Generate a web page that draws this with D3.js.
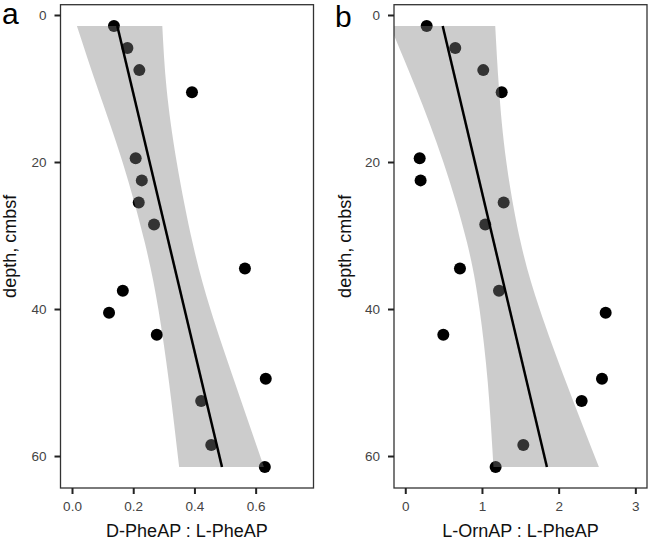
<!DOCTYPE html>
<html>
<head>
<meta charset="utf-8">
<script src="https://cdn.jsdelivr.net/npm/d3@7"></script>
<style>
  body { margin: 0; background: #fff; }
  svg { display: block; font-family: "Liberation Sans", Arial, sans-serif; }
</style>
</head>
<body>
<div id="chart"></div>
<script>
// depth of each sample (cmbsf)
const depths = [1.5, 4.5, 7.5, 10.5, 19.5, 22.5, 25.5, 28.5, 34.5, 37.5, 40.5, 43.5, 49.5, 52.5, 58.5, 61.5];
const dPheRatio = [0.137, 0.181, 0.220, 0.392, 0.208, 0.228, 0.218, 0.268, 0.565, 0.166, 0.121, 0.277, 0.633, 0.422, 0.455, 0.630];
const lOrnRatio = [0.279, 0.652, 1.017, 1.257, 0.188, 0.200, 1.283, 1.043, 0.713, 1.222, 2.613, 0.496, 2.565, 2.300, 1.539, 1.178];

// fitted line ends
const fitDepths = [1.5, 61.5];
const dPheFit = [0.148, 0.490];
const lOrnFit = [0.488, 1.847];

// confidence band, read at a few depths
const bandDepths = [1.5, 10, 20, 31, 40, 50, 61.5];
const dPheLow = [0.016, 0.084, 0.165, 0.238, 0.282, 0.317, 0.350];
const dPheHigh = [0.295, 0.309, 0.342, 0.394, 0.452, 0.532, 0.627];
const lOrnLow = [-0.197, 0.140, 0.496, 0.806, 0.968, 1.076, 1.150];
const lOrnHigh = [1.173, 1.222, 1.318, 1.506, 1.752, 2.098, 2.525];

const depthTicks = [0, 20, 40, 60];
const dPheTicks = [0, 0.2, 0.4, 0.6];
const lOrnTicks = [0, 1, 2, 3];

const svg = d3.select("#chart")
  .append("svg")
  .attr("width", 650)
  .attr("height", 542);

class DepthPanel {
  constructor(_config) {
    this.config = _config;
    this.initVis();
  }

  initVis() {
    let vis = this;
    const c = vis.config;

    vis.xScale = d3.scaleLinear().domain(c.xDomain).range([c.left, c.right]);
    vis.yScale = d3.scaleLinear().domain([-1.4, 64.35]).range([c.top, c.bottom]);

    vis.g = svg.append("g");

    const clipId = "clip-" + c.letter;
    vis.g.append("clipPath")
      .attr("id", clipId)
      .append("rect")
      .attr("x", c.left)
      .attr("y", c.top)
      .attr("width", c.right - c.left)
      .attr("height", c.bottom - c.top);

    const plot = vis.g.append("g").attr("clip-path", `url(#${clipId})`);

    // points first, the band sits on top and greys them
    plot.selectAll(".dot")
      .data(depths.map((d, i) => ({ depth: d, value: c.values[i] })))
      .join("circle")
      .attr("class", "dot")
      .attr("cx", (d) => vis.xScale(d.value))
      .attr("cy", (d) => vis.yScale(d.depth))
      .attr("r", 6)
      .attr("fill", "#000");

    const band = bandDepths.map((d, i) => ({ depth: d, lo: c.low[i], hi: c.high[i] }));
    const area = d3.area()
      .x0((d) => vis.xScale(d.lo))
      .x1((d) => vis.xScale(d.hi))
      .y((d) => vis.yScale(d.depth))
      .curve(d3.curveNatural);

    plot.append("path")
      .datum(band)
      .attr("d", area)
      .attr("fill", "#808080")
      .attr("fill-opacity", 0.4);

    const line = d3.line()
      .x((d) => vis.xScale(d.value))
      .y((d) => vis.yScale(d.depth));

    plot.append("path")
      .datum(fitDepths.map((d, i) => ({ depth: d, value: c.fit[i] })))
      .attr("d", line)
      .attr("fill", "none")
      .attr("stroke", "#000")
      .attr("stroke-width", 2.5);

    // panel border
    vis.g.append("rect")
      .attr("x", c.left)
      .attr("y", c.top)
      .attr("width", c.right - c.left)
      .attr("height", c.bottom - c.top)
      .attr("fill", "none")
      .attr("stroke", "#333")
      .attr("stroke-width", 1.3);

    const yAxis = d3.axisLeft(vis.yScale)
      .tickValues(depthTicks)
      .tickSize(6)
      .tickPadding(8);

    const xAxis = d3.axisBottom(vis.xScale)
      .tickValues(c.ticks)
      .tickFormat(d3.format(c.format))
      .tickSize(6)
      .tickPadding(7.5);

    const yG = vis.g.append("g")
      .attr("transform", `translate(${c.left},0)`)
      .call(yAxis);

    const xG = vis.g.append("g")
      .attr("transform", `translate(0,${c.bottom})`)
      .call(xAxis);

    [yG, xG].forEach((ax) => {
      ax.select(".domain").remove();
      ax.selectAll(".tick line").attr("stroke", "#222").attr("stroke-width", 2);
      ax.selectAll(".tick text")
        .attr("fill", "#444")
        .style("font-size", "13.5px");
    });

    vis.g.append("text")
      .attr("x", (c.left + c.right) / 2)
      .attr("y", 537)
      .attr("text-anchor", "middle")
      .style("font-size", "18px")
      .attr("fill", "#111")
      .text(c.xTitle);

    vis.g.append("text")
      .attr("transform", `translate(${c.yTitleX},${(c.top + c.bottom) / 2}) rotate(-90)`)
      .attr("text-anchor", "middle")
      .style("font-size", "18px")
      .attr("fill", "#111")
      .text("depth, cmbsf");

    vis.g.append("text")
      .attr("x", c.letterX)
      .attr("y", c.letterY)
      .style("font-size", "30px")
      .attr("fill", "#000")
      .text(c.letter);
  }
}

new DepthPanel({
  letter: "a", letterX: 2, letterY: 23.5,
  left: 60.5, right: 313.5, top: 4.7, bottom: 488,
  xDomain: [-0.0376, 0.789],
  values: dPheRatio, fit: dPheFit, low: dPheLow, high: dPheHigh,
  ticks: dPheTicks, format: ".1f",
  xTitle: "D-PheAP : L-PheAP", yTitleX: 16
});

new DepthPanel({
  letter: "b", letterX: 335, letterY: 26.5,
  left: 394, right: 647, top: 4.7, bottom: 488,
  xDomain: [-0.147, 3.152],
  values: lOrnRatio, fit: lOrnFit, low: lOrnLow, high: lOrnHigh,
  ticks: lOrnTicks, format: "d",
  xTitle: "L-OrnAP : L-PheAP", yTitleX: 351
});
</script>
</body>
</html>
